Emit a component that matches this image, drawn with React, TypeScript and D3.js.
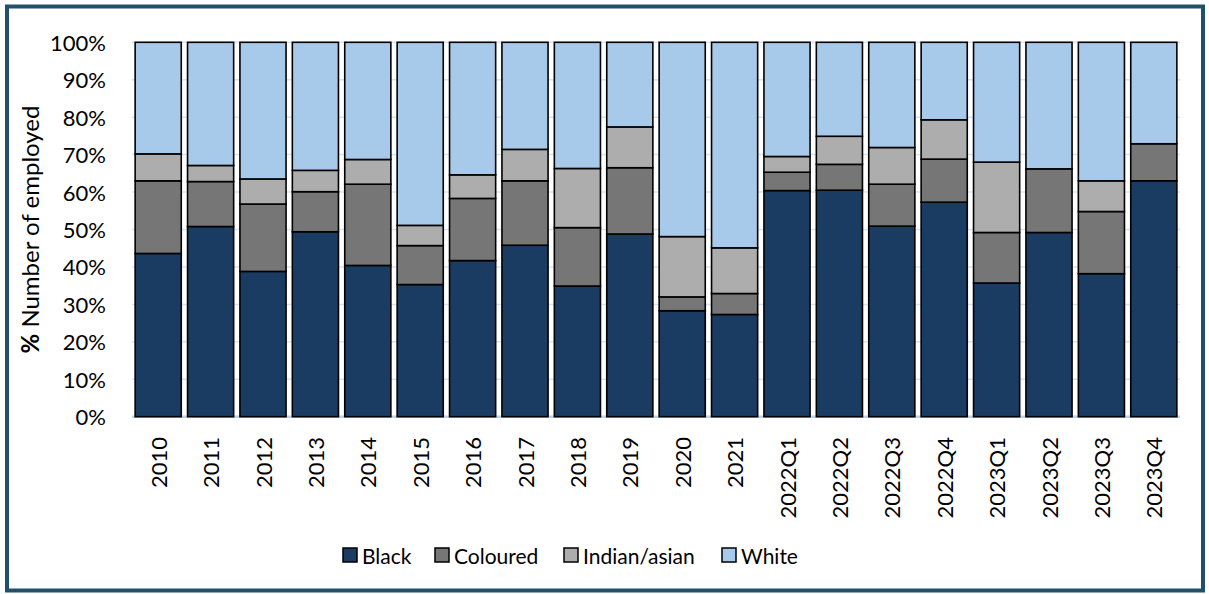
import React from "react";
import * as d3 from "d3";

const periods = [
  "2010", "2011", "2012", "2013", "2014", "2015", "2016", "2017", "2018", "2019", "2020", "2021",
  "2022Q1", "2022Q2", "2022Q3", "2022Q4", "2023Q1", "2023Q2", "2023Q3", "2023Q4",
];
const black = [43.6, 50.8, 38.8, 49.4, 40.4, 35.3, 41.7, 45.8, 34.9, 48.8, 28.3, 27.3, 60.4, 60.5, 50.9, 57.3, 35.7, 49.2, 38.2, 63.0];
const coloured = [19.4, 12.0, 18.0, 10.7, 21.7, 10.4, 16.6, 17.2, 15.6, 17.7, 3.7, 5.6, 4.9, 6.9, 11.2, 11.5, 13.5, 17.0, 16.6, 9.9];
const indian = [7.2, 4.3, 6.7, 5.7, 6.6, 5.4, 6.3, 8.4, 15.8, 10.9, 16.1, 12.2, 4.2, 7.5, 9.8, 10.5, 18.8, 0, 8.2, 0];
const white = [29.8, 32.9, 36.5, 34.2, 31.3, 48.9, 35.4, 28.6, 33.7, 22.6, 51.9, 54.9, 30.5, 25.1, 28.1, 20.7, 32.0, 33.8, 37.0, 27.1];

const groups = ["Black", "Coloured", "Indian/asian", "White"];
const yTicks = [0, 10, 20, 30, 40, 50, 60, 70, 80, 90, 100];

const colors = ["#1a3c63", "#767676", "#adadad", "#a7c9ea"];
const font = "Lato, 'Open Sans', sans-serif";

const W = 1209;
const H = 594;
const margin = { left: 132, right: 29, top: 42.3, bottom: 177.3 };

export default function App() {
  const rows = periods.map((p, i) => ({
    period: p,
    Black: black[i],
    Coloured: coloured[i],
    "Indian/asian": indian[i],
    White: white[i],
  }));
  const series = d3.stack<any>().keys(groups)(rows);

  const x = d3.scaleBand()
    .domain(periods)
    .range([margin.left, W - margin.right])
    .paddingInner(0.12)
    .paddingOuter(0.06);
  const y = d3.scaleLinear().domain([0, 100]).range([H - margin.bottom, margin.top]);

  // legend layout: square + label
  const legendX = [343, 435, 564, 722];

  return (
    <div style={{ position: "absolute", left: 0, top: 0 }}>
      <svg width={W} height={H} style={{ display: "block", background: "#fff" }}>
        <rect x={7} y={6.5} width={W - 13} height={H - 10} fill="none" stroke="#20506c" strokeWidth={4} />

        {yTicks.map((t) => (
          <line key={`g${t}`} x1={margin.left} x2={W - margin.right} y1={y(t)} y2={y(t)}
            stroke={t === 0 ? "#bcd4ee" : "#d6e4f4"} strokeWidth={t === 0 ? 2.5 : 1.5} />
        ))}

        {series.map((s, si) => (
          <g key={s.key} fill={colors[si]}>
            {s.map((d, i) => {
              const h = y(d[0]) - y(d[1]);
              if (h <= 0) return null;
              return (
                <rect key={i} x={x(periods[i])} width={x.bandwidth()} y={y(d[1])} height={h}
                  stroke="#000" strokeWidth={1.6} />
              );
            })}
          </g>
        ))}

        {yTicks.map((t) => (
          <text key={`t${t}`} x={106} y={y(t)} textAnchor="end" dominantBaseline="central"
            fontFamily={font} fontSize={22} fill="#000">{t}%</text>
        ))}

        <text transform={`translate(29,${(y(0) + y(100)) / 2}) rotate(-90)`} textAnchor="middle"
          dominantBaseline="central" fontFamily={font} fontSize={24} fill="#000">
          <tspan fontWeight="bold">%</tspan> Number of employed
        </text>

        {periods.map((p) => (
          <text key={p} transform={`translate(${x(p)! + x.bandwidth() / 2},437) rotate(-90)`}
            textAnchor="end" dominantBaseline="central" fontFamily={font} fontSize={22} fill="#000">{p}</text>
        ))}

        {groups.map((g, i) => (
          <g key={g} transform={`translate(${legendX[i]},548)`}>
            <rect x={0} y={0} width={14} height={14} fill={colors[i]} stroke="#000" strokeWidth={1.5} />
            <text x={19} y={7.5} dominantBaseline="central" fontFamily={font} fontSize={21} fill="#000">{g}</text>
          </g>
        ))}
      </svg>
    </div>
  );
}
